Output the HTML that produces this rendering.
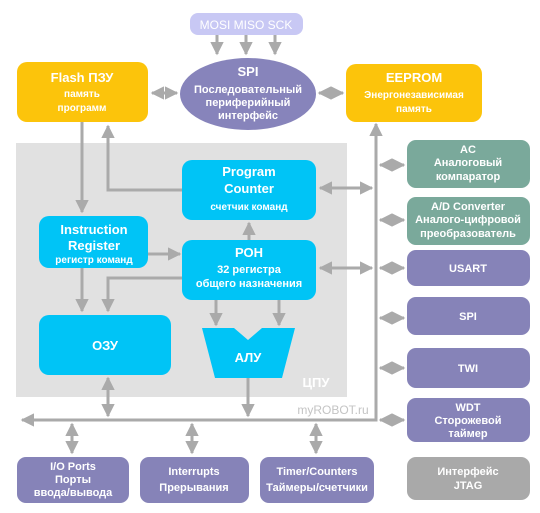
<!DOCTYPE html>
<html><head><meta charset="utf-8"><style>
html,body{margin:0;padding:0;background:#fff}
svg{display:block}
text{font-family:"Liberation Sans","DejaVu Sans",sans-serif;font-weight:bold;fill:#fff;text-anchor:middle}
text.n{font-weight:normal}
</style></head><body>
<svg width="540" height="513" viewBox="0 0 540 513" xmlns="http://www.w3.org/2000/svg">
<defs>
<marker id="a" viewBox="0 0 10 10" refX="9" refY="5" markerWidth="4.5" markerHeight="4.5" orient="auto-start-reverse"><path d="M0,0L10,5L0,10z" fill="#aaa"/></marker>
</defs>
<rect x="16" y="143" width="331" height="254" fill="#e1e1e1"/>
<g stroke="#aaa" stroke-width="3" fill="none">
<line x1="217" y1="35" x2="217" y2="54" marker-end="url(#a)"/>
<line x1="246" y1="35" x2="246" y2="54" marker-end="url(#a)"/>
<line x1="275" y1="35" x2="275" y2="54" marker-end="url(#a)"/>
<line x1="152" y1="93" x2="177" y2="93" marker-start="url(#a)" marker-end="url(#a)"/>
<line x1="319" y1="93" x2="343" y2="93" marker-start="url(#a)" marker-end="url(#a)"/>
<line x1="82" y1="122" x2="82" y2="212" marker-end="url(#a)"/>
<polyline points="182,190 108,190 108,126" marker-end="url(#a)"/>
<line x1="148" y1="254" x2="180" y2="254" marker-end="url(#a)"/>
<line x1="249" y1="240" x2="249" y2="223" marker-end="url(#a)"/>
<line x1="82" y1="268" x2="82" y2="311" marker-end="url(#a)"/>
<polyline points="182,278 108,278 108,311" marker-end="url(#a)"/>
<line x1="216" y1="300" x2="216" y2="325" marker-end="url(#a)"/>
<line x1="279" y1="300" x2="279" y2="325" marker-end="url(#a)"/>
<line x1="248" y1="378" x2="248" y2="416" marker-end="url(#a)"/>
<line x1="108" y1="378" x2="108" y2="416" marker-start="url(#a)" marker-end="url(#a)"/>
<polyline points="376,124 376,420 22,420" marker-start="url(#a)" marker-end="url(#a)"/>
<line x1="320" y1="188" x2="372" y2="188" marker-start="url(#a)" marker-end="url(#a)"/>
<line x1="320" y1="268" x2="372" y2="268" marker-start="url(#a)" marker-end="url(#a)"/>
<line x1="380" y1="165" x2="404" y2="165" marker-start="url(#a)" marker-end="url(#a)"/>
<line x1="380" y1="220" x2="404" y2="220" marker-start="url(#a)" marker-end="url(#a)"/>
<line x1="380" y1="268" x2="404" y2="268" marker-start="url(#a)" marker-end="url(#a)"/>
<line x1="380" y1="318" x2="404" y2="318" marker-start="url(#a)" marker-end="url(#a)"/>
<line x1="380" y1="368" x2="404" y2="368" marker-start="url(#a)" marker-end="url(#a)"/>
<line x1="380" y1="420" x2="404" y2="420" marker-start="url(#a)" marker-end="url(#a)"/>
<line x1="72" y1="424" x2="72" y2="453" marker-start="url(#a)" marker-end="url(#a)"/>
<line x1="192" y1="424" x2="192" y2="453" marker-start="url(#a)" marker-end="url(#a)"/>
<line x1="316" y1="424" x2="316" y2="453" marker-start="url(#a)" marker-end="url(#a)"/>
</g>
<rect x="190" y="13" width="113" height="22" rx="8" fill="#c8c8f4"/>
<text class="n" x="246" y="29" font-size="12">MOSI  MISO  SCK</text>
<rect x="17" y="62" width="131" height="60" rx="10" fill="#fcc40b"/>
<text x="82" y="82" font-size="13">Flash ПЗУ</text>
<text x="82" y="97" font-size="10">память</text>
<text x="82" y="111" font-size="10">программ</text>
<ellipse cx="248" cy="94" rx="68" ry="36" fill="#8784bb"/>
<text x="248" y="76" font-size="13">SPI</text>
<text x="248" y="93" font-size="11">Последовательный</text>
<text x="248" y="106" font-size="11">периферийный</text>
<text x="248" y="119" font-size="11">интерфейс</text>
<rect x="346" y="64" width="136" height="58" rx="10" fill="#fcc40b"/>
<text x="414" y="82" font-size="13">EEPROM</text>
<text x="414" y="98" font-size="10">Энергонезависимая</text>
<text x="414" y="112" font-size="10">память</text>
<rect x="182" y="160" width="134" height="60" rx="10" fill="#00c4f6"/>
<text x="249" y="176" font-size="13">Program</text>
<text x="249" y="193" font-size="13">Counter</text>
<text x="249" y="210" font-size="10">счетчик команд</text>
<rect x="39" y="216" width="109" height="52" rx="10" fill="#00c4f6"/>
<text x="94" y="234" font-size="13">Instruction</text>
<text x="94" y="250" font-size="13">Register</text>
<text x="94" y="263" font-size="10">регистр команд</text>
<rect x="182" y="240" width="134" height="60" rx="10" fill="#00c4f6"/>
<text x="249" y="257" font-size="13">РОН</text>
<text x="249" y="273" font-size="11">32 регистра</text>
<text x="249" y="287" font-size="11">общего назначения</text>
<rect x="39" y="315" width="132" height="60" rx="10" fill="#00c4f6"/>
<text x="105" y="350" font-size="13">ОЗУ</text>
<polygon points="202,328 234,328 248,340 262,328 295,328 282,378 215,378" fill="#00c4f6"/>
<text x="248" y="362" font-size="13">АЛУ</text>
<text x="316" y="387" font-size="13">ЦПУ</text>
<text class="n" x="333" y="414" font-size="12" style="fill:#c4c4c4">myROBOT.ru</text>
<g>
<rect x="407" y="140" width="123" height="48" rx="9" fill="#7aa99b"/>
<text x="468" y="153" font-size="11">AC</text>
<text x="468" y="166" font-size="11">Аналоговый</text>
<text x="468" y="180" font-size="11">компаратор</text>
<rect x="407" y="197" width="123" height="48" rx="9" fill="#7aa99b"/>
<text x="468" y="210" font-size="11">A/D Converter</text>
<text x="468" y="223" font-size="11">Аналого-цифровой</text>
<text x="468" y="237" font-size="11">преобразователь</text>
<rect x="407" y="250" width="123" height="36" rx="9" fill="#8683b8"/>
<text x="468" y="272" font-size="11">USART</text>
<rect x="407" y="297" width="123" height="38" rx="9" fill="#8683b8"/>
<text x="468" y="320" font-size="11">SPI</text>
<rect x="407" y="348" width="123" height="40" rx="9" fill="#8683b8"/>
<text x="468" y="372" font-size="11">TWI</text>
<rect x="407" y="398" width="123" height="44" rx="9" fill="#8683b8"/>
<text x="468" y="411" font-size="11">WDT</text>
<text x="468" y="424" font-size="11">Сторожевой</text>
<text x="468" y="437" font-size="11">таймер</text>
<rect x="407" y="457" width="123" height="43" rx="9" fill="#a9a9a9"/>
<text x="468" y="475" font-size="11">Интерфейс</text>
<text x="468" y="489" font-size="11">JTAG</text>
<rect x="17" y="457" width="112" height="46" rx="9" fill="#8683b8"/>
<text x="73" y="470" font-size="11">I/O Ports</text>
<text x="73" y="483" font-size="11">Порты</text>
<text x="73" y="496" font-size="11">ввода/вывода</text>
<rect x="140" y="457" width="109" height="46" rx="9" fill="#8683b8"/>
<text x="194" y="475" font-size="11">Interrupts</text>
<text x="194" y="491" font-size="11">Прерывания</text>
<rect x="260" y="457" width="114" height="46" rx="9" fill="#8683b8"/>
<text x="317" y="475" font-size="11">Timer/Counters</text>
<text x="317" y="491" font-size="11">Таймеры/счетчики</text>
</g>
</svg>
</body></html>
